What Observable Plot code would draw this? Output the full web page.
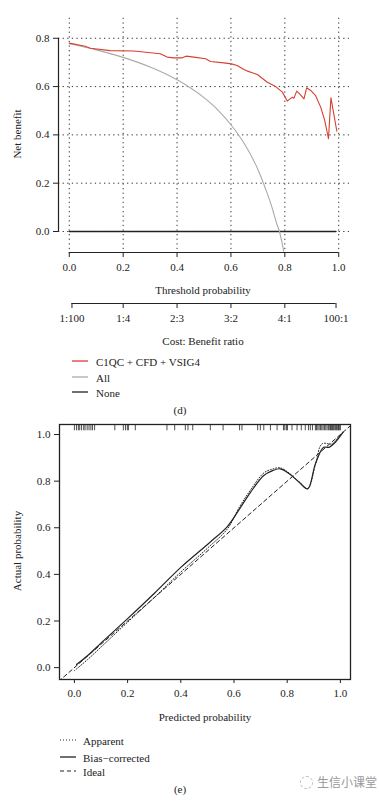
<!DOCTYPE html>
<html><head><meta charset="utf-8">
<script src="https://cdn.jsdelivr.net/npm/d3@7"></script>
<script src="https://cdn.jsdelivr.net/npm/@observablehq/plot@0.6"></script>
<style>
body{margin:0;background:#fff;font-family:"Liberation Serif","Times New Roman",serif;color:#222;}
#root{position:relative;width:379px;height:801px;overflow:hidden;background:#fff}
.t{position:absolute;font-size:11px;white-space:nowrap;line-height:1;color:#222}
.c{transform:translate(-50%,-50%)}
.l{transform:translate(0,-50%)}
.r{transform:translate(-50%,-50%) rotate(-90deg)}
.pl{position:absolute;left:0}
</style></head><body><div id="root"></div>
<script>
// ---------- Panel (d): decision curve ----------
const dcXTicks = [0, 0.2, 0.4, 0.6, 0.8, 1.0];
const dcYTicks = [0, 0.2, 0.4, 0.6, 0.8];
const cbTicks = [0.01, 0.2, 0.4, 0.6, 0.8, 0.99];
const cbLabels = ["1:100", "1:4", "2:3", "3:2", "4:1", "100:1"];
const dcSeries = ["C1QC + CFD + VSIG4", "All", "None"];

const modelThreshold = [0, 0.059, 0.078, 0.152, 0.239, 0.338, 0.363, 0.388, 0.419, 0.434, 0.462, 0.506, 0.524, 0.574, 0.602, 0.623, 0.648, 0.661, 0.698, 0.735, 0.766, 0.791, 0.809, 0.819, 0.828, 0.834, 0.844, 0.855, 0.871, 0.881, 0.896, 0.914, 0.933, 0.948, 0.962, 0.971, 0.993];
const modelNB = [0.780, 0.767, 0.759, 0.749, 0.747, 0.736, 0.722, 0.719, 0.719, 0.726, 0.722, 0.715, 0.704, 0.698, 0.694, 0.687, 0.671, 0.664, 0.650, 0.618, 0.600, 0.577, 0.540, 0.549, 0.556, 0.552, 0.581, 0.570, 0.549, 0.595, 0.584, 0.563, 0.515, 0.460, 0.384, 0.554, 0.415];

const allThreshold = [0, 0.1, 0.2, 0.3, 0.4, 0.5, 0.55, 0.6, 0.65, 0.7, 0.73, 0.75, 0.77, 0.78, 0.796];
const allNB = [0.777, 0.752, 0.721, 0.681, 0.628, 0.554, 0.505, 0.442, 0.363, 0.257, 0.172, 0.108, 0.032, 0.0, -0.082];

const noneThreshold = [0, 0.99];
const noneNB = [0, 0];

// ---------- Panel (e): calibration curve ----------
const calTicks = [0, 0.2, 0.4, 0.6, 0.8, 1.0];
const calSeries = ["Apparent", "Bias\u2212corrected", "Ideal"];
const apparentPred = [0.0, 0.05, 0.1, 0.2, 0.3, 0.4, 0.5, 0.575, 0.621, 0.662, 0.712, 0.745, 0.774, 0.81, 0.845, 0.877, 0.906, 0.931, 0.969, 0.99, 1.01];
const apparentObs  = [-0.013, 0.035, 0.088, 0.195, 0.3, 0.41, 0.512, 0.595, 0.69, 0.762, 0.835, 0.852, 0.857, 0.832, 0.797, 0.768, 0.87, 0.96, 0.96, 0.985, 1.01];
const biasPred = [0.008, 0.05, 0.1, 0.2, 0.3, 0.4, 0.51, 0.575, 0.621, 0.662, 0.712, 0.745, 0.774, 0.81, 0.845, 0.877, 0.906, 0.937, 0.956, 0.981, 1.01];
const biasObs  = [0.013, 0.052, 0.105, 0.21, 0.318, 0.43, 0.538, 0.605, 0.681, 0.752, 0.824, 0.845, 0.853, 0.83, 0.795, 0.767, 0.874, 0.945, 0.945, 0.967, 1.01];
const idealLine = [-0.06, 1.05];
const rugPred = [0.0, 0.008, 0.015, 0.02, 0.027, 0.035, 0.04, 0.048, 0.055, 0.062, 0.068, 0.076, 0.152, 0.184, 0.192, 0.199, 0.203, 0.229, 0.348, 0.377, 0.417, 0.427, 0.445, 0.511, 0.559, 0.621, 0.630, 0.689, 0.699, 0.712, 0.737, 0.762, 0.786, 0.791, 0.797, 0.801, 0.818, 0.837, 0.853, 0.868, 0.880, 0.887, 0.895, 0.906, 0.91, 0.915, 0.92, 0.925, 0.93, 0.935, 0.94, 0.945, 0.95, 0.955, 0.96, 0.963, 0.966, 0.97, 0.973, 0.976, 0.98, 0.983, 0.986, 0.99, 0.993, 0.996, 1.0];

const font = '"Liberation Serif","Times New Roman",serif';
const root = document.getElementById("root");
const f1 = d3.format(".1f");
const style = {fontFamily: font, fontSize: "11px", color: "#222", background: "transparent", overflow: "visible"};

function place(svg, top) { svg.classList.add("pl"); svg.style.top = top + "px"; root.appendChild(svg); }
function text(str, x, y, cls, extra) {
  const d = document.createElement("div");
  d.className = "t " + cls; d.textContent = str;
  d.style.left = x + "px"; d.style.top = y + "px";
  if (extra) Object.assign(d.style, extra);
  root.appendChild(d); return d;
}
// legend swatch as a tiny inline SVG line
function swatch(x, y, color, width, dash) {
  const ns = "http://www.w3.org/2000/svg";
  const s = document.createElementNS(ns, "svg");
  s.setAttribute("width", 16); s.setAttribute("height", 6);
  Object.assign(s.style, {position: "absolute", left: x + "px", top: (y - 3) + "px"});
  const ln = document.createElementNS(ns, "line");
  ln.setAttribute("x1", 0); ln.setAttribute("x2", 16); ln.setAttribute("y1", 3); ln.setAttribute("y2", 3);
  ln.setAttribute("stroke", color); ln.setAttribute("stroke-width", width);
  if (dash) ln.setAttribute("stroke-dasharray", dash);
  s.appendChild(ln); root.appendChild(s);
}

const red = modelThreshold.map((x, i) => ({x, y: modelNB[i]}));
const all = allThreshold.map((x, i) => ({x, y: allNB[i]}));
const none = noneThreshold.map((x, i) => ({x, y: noneNB[i]}));
const colRed = "#d6402f", colAll = "#aaaaaa", colNone = "#222222";

const p1 = Plot.plot({
  width: 379, height: 300, marginLeft: 58, marginRight: 30, marginTop: 17, marginBottom: 48,
  style,
  x: {domain: [-0.04, 1.04]},
  y: {domain: [-0.087, 0.886]},
  marks: [
    Plot.ruleX(dcXTicks, {y1: -0.075, y2: 0.886, stroke: "#333", strokeDasharray: "1.3,3.3", strokeWidth: 1}),
    Plot.ruleY(dcYTicks, {stroke: "#333", strokeDasharray: "1.3,3.3", strokeWidth: 1}),
    Plot.line(none, {x: "x", y: "y", stroke: colNone, strokeWidth: 1.3}),
    Plot.line(all, {x: "x", y: "y", stroke: colAll, strokeWidth: 1.1, curve: "monotone-x"}),
    Plot.line(red, {x: "x", y: "y", stroke: colRed, strokeWidth: 1.1}),
    Plot.ruleX([-0.04], {y1: dcYTicks[0], y2: dcYTicks[dcYTicks.length - 1], stroke: "#222", strokeWidth: 1.2}),
    Plot.ruleY([-0.087], {x1: dcXTicks[0], x2: dcXTicks[dcXTicks.length - 1], stroke: "#222", strokeWidth: 1.2}),
    Plot.axisY({ticks: dcYTicks, tickSize: 5, tickPadding: 4, tickFormat: f1, label: null}),
    Plot.axisX({ticks: dcXTicks, tickSize: 5, tickPadding: 6, tickFormat: f1, label: null})
  ]
});
place(p1, 0);

const p2 = Plot.plot({
  width: 379, height: 40, marginLeft: 58, marginRight: 30, marginTop: 12, marginBottom: 27,
  style,
  x: {domain: [-0.04, 1.04]},
  y: {domain: [0, 1], axis: null},
  marks: [
    Plot.ruleY([0], {x1: cbTicks[0], x2: cbTicks[cbTicks.length - 1], stroke: "#222", strokeWidth: 1.2}),
    Plot.axisX({ticks: cbTicks, tickSize: 5, tickPadding: 6, tickFormat: d => cbLabels[cbTicks.indexOf(d)], label: null})
  ]
});
place(p2, 290);

text("Net benefit", 17, 134, "r");
text("Threshold probability", 203, 290, "c");
text("Cost: Benefit ratio", 203, 341, "c");
const dcCols = [colRed, colAll, colNone];
const dcRows = [361, 377, 392];
dcSeries.forEach((s, i) => {
  swatch(72, dcRows[i], dcCols[i], 1.3);
  text(s, 96, dcRows[i] + 0.5, "l");
});
text("(d)", 180, 410, "c");

// ---------- (e) ----------
const app = apparentPred.map((x, i) => ({x, y: apparentObs[i]}));
const bias = biasPred.map((x, i) => ({x, y: biasObs[i]}));
const ideal = idealLine.map(v => ({x: v, y: v}));

const p3 = Plot.plot({
  width: 379, height: 290, marginLeft: 59, marginRight: 29, marginTop: 9, marginBottom: 26,
  style,
  x: {domain: [-0.056, 1.038]},
  y: {domain: [-0.051, 1.043]},
  marks: [
    Plot.ruleX(rugPred, {x: d => d, y1: 1.043, y2: 1.016, stroke: "#222", strokeWidth: 0.8}),
    Plot.line(ideal, {x: "x", y: "y", stroke: "#222", strokeWidth: 1, strokeDasharray: "4,3", clip: true}),
    Plot.line(app, {x: "x", y: "y", stroke: "#222", strokeWidth: 1, strokeDasharray: "1,1.8", curve: "catmull-rom", clip: true}),
    Plot.line(bias, {x: "x", y: "y", stroke: "#222", strokeWidth: 1.2, curve: "catmull-rom", clip: true}),
    Plot.frame({stroke: "#222", strokeWidth: 1.3}),
    Plot.axisY({ticks: calTicks, tickSize: 5, tickPadding: 4, tickFormat: f1, label: null}),
    Plot.axisX({ticks: calTicks, tickSize: 4, tickPadding: 6, tickFormat: f1, label: null})
  ]
});
place(p3, 415);

text("Actual probability", 17, 551, "r");
text("Predicted probability", 205, 717, "c");
const calRows = [740, 757, 771];
const calDash = ["1,2", null, "4,3"];
const calWidth = [1, 1.3, 1];
calSeries.forEach((s, i) => {
  swatch(60, calRows[i], "#222", calWidth[i], calDash[i]);
  text(s, 83, calRows[i] + 0.5, "l");
});
text("(e)", 180, 789, "c");

// watermark
const ic = document.createElement("div");
Object.assign(ic.style, {position: "absolute", left: "300px", top: "776px", width: "11px", height: "11px", borderRadius: "50%", border: "1px dashed #bbb"});
root.appendChild(ic);
text("生信小课堂", 317, 782, "l", {fontFamily: '"Noto Sans CJK SC", sans-serif', fontSize: "12px", color: "#999"});
</script>
</body></html>
